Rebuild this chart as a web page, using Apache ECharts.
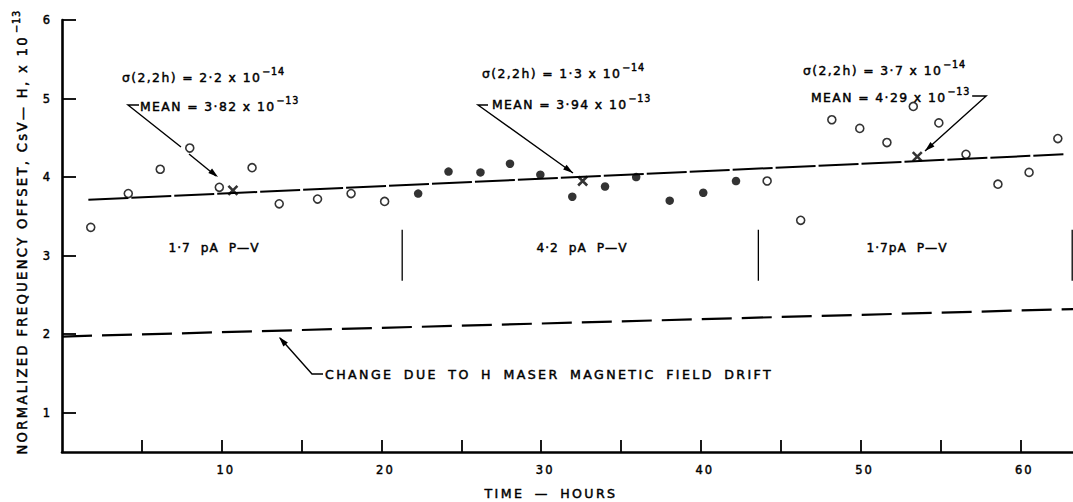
<!DOCTYPE html>
<html>
<head>
<meta charset="utf-8">
<script src="https://cdn.jsdelivr.net/npm/echarts@6/dist/echarts.min.js"></script>
<style>
html,body{margin:0;padding:0;background:#fff;}
#chart{width:1073px;height:502px;}
</style>
</head>
<body>
<div id="chart"></div>
<script>
// ---------------- data ----------------
const openA_hours  = [1.8, 4.15, 6.15, 8.0, 9.85, 11.9, 13.6, 16.0, 18.1, 20.2];
const openA_values = [3.36, 3.79, 4.10, 4.37, 3.87, 4.12, 3.66, 3.72, 3.79, 3.69];

const filled_hours  = [22.3, 24.2, 26.2, 28.05, 29.95, 31.95, 34.0, 35.95, 38.05, 40.15, 42.2];
const filled_values = [3.79, 4.07, 4.06, 4.17, 4.03, 3.75, 3.88, 4.00, 3.70, 3.80, 3.95];

const openB_hours  = [44.15, 46.25, 48.2, 49.95, 51.65, 53.3, 54.9, 56.6, 58.6, 60.55, 62.35];
const openB_values = [3.95, 3.45, 4.73, 4.62, 4.44, 4.90, 4.69, 4.29, 3.91, 4.06, 4.49];

const mean_hours  = [10.7, 32.6, 53.55];
const mean_values = [3.83, 3.95, 4.26];

const trendLine = [[1.65, 3.71], [62.7, 4.29]];
const driftLine = [[0, 1.97], [63.3, 2.32]];

const periodBounds = [21.3, 43.6, 63.25];
const periodSepRange = [2.68, 3.33];

const xTickValues  = [5, 10, 15, 20, 25, 30, 35, 40, 45, 50, 55, 60];
const xLabelValues = [10, 20, 30, 40, 50, 60];
const yTickValues  = [1, 2, 3, 4, 5, 6];

// ---------------- text styling ----------------
const FONT = '"DejaVu Sans"';
const INK = '#000';
const TEXT_STROKE = 0.45;
const groups = {
  tick:   {size: 11.5, ls: 2,   ws: 0},
  ann:    {size: 12.4, ls: 1.4, ws: 0},
  sup:    {size: 9.6,  ls: 0.8, ws: 0},
  note:   {size: 12.6, ls: 2.4, ws: 4},
  period: {size: 12.2, ls: 1,   ws: 5},
  yname:  {size: 13.2, ls: 2.3, ws: 0},
  ysup:   {size: 9.8,  ls: 0.8, ws: 0}
};
(function(){
  let css = '';
  Object.values(groups).forEach(g => {
    css += `svg text[style*="${g.size}px"]{letter-spacing:${g.ls}px;word-spacing:${g.ws}px;}\n`;
  });
  const st = document.createElement('style'); st.textContent = css; document.head.appendChild(st);
})();
function measure(text, g){
  const s = document.createElement('span');
  s.style.cssText = `position:absolute;visibility:hidden;white-space:pre;font-size:${g.size}px;font-family:${FONT};letter-spacing:${g.ls}px;word-spacing:${g.ws}px`;
  s.textContent = text; document.body.appendChild(s);
  const w = s.getBoundingClientRect().width; s.remove(); return w;
}
function txt(x, y, text, g, align, extra){
  return Object.assign({type:'text', x, y, silent:true, z:10,
    style:{text, fontSize:g.size, fontFamily:FONT, fill:INK, stroke:INK, lineWidth:TEXT_STROKE,
      textAlign: align || 'left', textVerticalAlign:'middle', align: align || 'left', verticalAlign:'middle'}}, extra || {});
}
function annText(x, y, base, sup){
  const w = measure(base, groups.ann);
  const ws = measure(sup, groups.sup);
  const els = [txt(x, y, base, groups.ann), txt(x + w + 1, y - 6, sup, groups.sup)];
  els.endX = x + w + 1 + ws;
  return els;
}
function line(points, w){
  return {type:'polyline', silent:true, z:10, shape:{points}, style:{stroke:'#000', lineWidth:w || 1.4, fill:null}};
}
function head(from, to, len, half){
  len = len || 10; half = half || 3;
  const dx = to[0]-from[0], dy = to[1]-from[1], L = Math.hypot(dx, dy);
  const ux = dx/L, uy = dy/L;
  const bx = to[0]-ux*len, by = to[1]-uy*len;
  return {type:'polygon', silent:true, z:10, shape:{points:[to, [bx-uy*half, by+ux*half], [bx+uy*half, by-ux*half]]}, style:{fill:'#000'}};
}

const zip = (a, b) => a.map((v, i) => [v, b[i]]);

const meanRight = annText(811, 97, 'MEAN = 4·29 x 10', '−13');
const leadStart = Math.max(meanRight.endX + 2, 966);

const graphics = [].concat(
  annText(122, 77, 'σ(2,2h) = 2·2 x 10', '−14'),
  annText(140, 106, 'MEAN = 3·82 x 10', '−13'),
  [line([[139,105],[128,105],[181,147]]), line([[189,154],[216,176]]), head([128,105],[218,177])],
  annText(482, 73, 'σ(2,2h) = 1·3 x 10', '−14'),
  annText(492, 104, 'MEAN = 3·94 x 10', '−13'),
  [line([[488,105],[478,105],[573,173]]), head([478,105],[573,173])],
  annText(803, 70, 'σ(2,2h) = 3·7 x 10', '−14'),
  meanRight,
  [line([[leadStart,96],[leadStart + 14,96],[925,151]]), head([leadStart + 14,96],[925,151])],
  [txt(214, 248, '1·7 pA P—V', groups.period, 'center'),
   txt(582, 248, '4·2 pA P—V', groups.period, 'center'),
   txt(907, 248, '1·7pA P—V', groups.period, 'center')],
  [line([[323,374],[312,374],[280,338]]), head([312,374],[279,337]),
   txt(325, 374.5, 'CHANGE DUE TO H MASER MAGNETIC FIELD DRIFT', groups.note)],
  [txt(551, 493, 'TIME — HOURS', groups.note, 'center')],
  [txt(22, 35, 'NORMALIZED FREQUENCY OFFSET, CsV— H, x 10', groups.yname, 'right', {rotation: Math.PI/2}),
   txt(16, 33, '−13', groups.ysup, 'left', {rotation: Math.PI/2})]
);

const chart = echarts.init(document.getElementById('chart'), null, {renderer:'svg'});
chart.setOption({
  animation: false,
  backgroundColor: '#fff',
  grid: {left: 62, right: 0, top: 20, bottom: 50, containLabel: false},
  xAxis: {
    type: 'value', min: 0, max: 63.3,
    axisLine: {show: true, onZero: false, lineStyle: {color: '#000', width: 2.6}},
    axisTick: {show: true, inside: true, length: 12, customValues: xTickValues, lineStyle: {color: '#000', width: 1.8}},
    axisLabel: {show: true, customValues: xLabelValues, margin: 12, padding: [0,0,0,8],
      fontSize: groups.tick.size, fontFamily: FONT, color: INK, textBorderColor: INK, textBorderWidth: TEXT_STROKE},
    splitLine: {show: false}
  },
  yAxis: {
    type: 'value', min: 0.5, max: 6,
    axisLine: {show: true, onZero: false, lineStyle: {color: '#000', width: 2.6}},
    axisTick: {show: true, inside: true, length: 14, customValues: yTickValues, lineStyle: {color: '#000', width: 1.8}},
    axisLabel: {show: true, customValues: yTickValues, margin: 10,
      fontSize: groups.tick.size, fontFamily: FONT, color: INK, textBorderColor: INK, textBorderWidth: TEXT_STROKE},
    splitLine: {show: false}
  },
  series: [
    {type:'line', data: trendLine, symbol:'none', silent:true, z:1,
      lineStyle:{color:'#000', width:2, type:[40,3]}},
    {type:'line', data: driftLine, symbol:'none', silent:true, z:1,
      lineStyle:{color:'#000', width:2.2, type:[30,10]}}
  ].concat(periodBounds.map(x => ({
    type:'line', data:[[x, periodSepRange[0]], [x, periodSepRange[1]]], symbol:'none', silent:true, z:1,
    lineStyle:{color:'#000', width:1.3}
  }))).concat([
    {type:'scatter', data: zip(openA_hours, openA_values), symbol:'circle', symbolSize:8, z:3,
      itemStyle:{color:'#fff', borderColor:'#000', borderWidth:1.6}},
    {type:'scatter', data: zip(filled_hours, filled_values), symbol:'circle', symbolSize:8.5, z:3,
      itemStyle:{color:'#000'}},
    {type:'scatter', data: zip(openB_hours, openB_values), symbol:'circle', symbolSize:8, z:3,
      itemStyle:{color:'#fff', borderColor:'#000', borderWidth:1.6}},
    {type:'scatter', data: zip(mean_hours, mean_values), symbol:'path://M0,0L10,10M10,0L0,10', symbolSize:9, z:4,
      itemStyle:{color:'none', borderColor:'#000', borderWidth:2.6}}
  ]),
  graphic: {elements: graphics}
});
</script>
</body>
</html>
